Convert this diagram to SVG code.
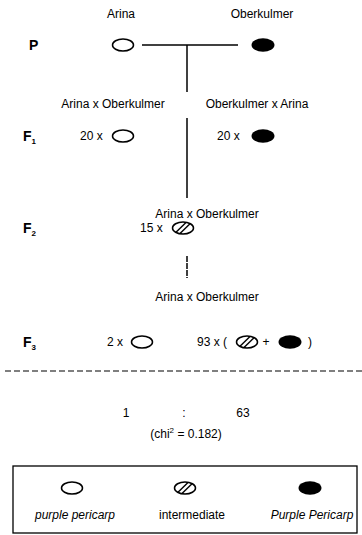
<svg xmlns="http://www.w3.org/2000/svg" width="362" height="535" viewBox="0 0 362 535">
  <style>
    text { font-family: "Liberation Sans", Arial, sans-serif; font-size: 12px; fill: #000; }
    .mid { text-anchor: middle; }
    .gen { font-size: 14px; font-weight: bold; }
    .sub { font-size: 8px; font-weight: bold; }
    .it { font-style: italic; }
    .ln { stroke: #000; stroke-width: 1.5; fill: none; }
    .dash { stroke: #000; stroke-width: 1.2; fill: none; stroke-dasharray: 6 3; }
  </style>
  <defs>
    <g id="seed-open">
      <ellipse cx="0" cy="0" rx="10.5" ry="6" fill="#fff" stroke="#000" stroke-width="1.5"/>
    </g>
    <g id="seed-mid">
      <ellipse cx="0" cy="0" rx="10.5" ry="6" fill="#fff" stroke="#000" stroke-width="1.5"/>
      <line x1="-7" y1="4.3" x2="3" y2="-5.6" stroke="#000" stroke-width="1.4"/>
      <line x1="-3" y1="5.6" x2="7" y2="-4.3" stroke="#000" stroke-width="1.4"/>
    </g>
    <g id="seed-full">
      <ellipse cx="0" cy="0" rx="11.5" ry="6.8" fill="#000"/>
    </g>
  </defs>

  <!-- connectors -->
  <g id="connectors">
    <line class="ln" x1="142" y1="45" x2="238" y2="45"/>
    <line class="ln" x1="187" y1="45" x2="187" y2="92"/>
    <line class="ln" x1="187" y1="118" x2="187" y2="198"/>
    <line class="ln" x1="187" y1="256" x2="187" y2="278" stroke-width="1.2" stroke-dasharray="6 1"/>
    <line class="dash" x1="5" y1="371" x2="362" y2="371"/>
  </g>

  <!-- parents -->
  <g id="gen-p">
    <text class="gen" x="29" y="50">P</text>
    <text class="mid" x="121" y="18">Arina</text>
    <text class="mid" x="262" y="18">Oberkulmer</text>
    <use href="#seed-open" x="123" y="45"/>
    <use href="#seed-full" x="263" y="45"/>
  </g>

  <!-- F1 -->
  <g id="gen-f1">
    <text class="mid" x="113" y="108">Arina x Oberkulmer</text>
    <text class="mid" x="257" y="108">Oberkulmer x Arina</text>
    <text class="gen" x="23" y="141">F<tspan class="sub" dy="3">1</tspan></text>
    <text x="80" y="140">20 x</text>
    <use href="#seed-open" x="123" y="136"/>
    <text x="217" y="140">20 x</text>
    <use href="#seed-full" x="263" y="136"/>
  </g>

  <!-- F2 -->
  <g id="gen-f2">
    <text class="mid" x="207" y="218">Arina x Oberkulmer</text>
    <text class="gen" x="23" y="233">F<tspan class="sub" dy="3">2</tspan></text>
    <text x="140" y="232">15 x</text>
    <use href="#seed-mid" x="183" y="228"/>
  </g>

  <!-- F3 -->
  <g id="gen-f3">
    <text class="mid" x="207" y="301">Arina x Oberkulmer</text>
    <text class="gen" x="23" y="347">F<tspan class="sub" dy="3">3</tspan></text>
    <text x="107" y="346">2 x</text>
    <use href="#seed-open" x="142" y="342"/>
    <text x="197" y="346">93 x  (</text>
    <use href="#seed-mid" x="247" y="342"/>
    <text class="mid" x="266" y="346">+</text>
    <use href="#seed-full" x="290" y="342"/>
    <text x="308" y="346">)</text>
  </g>

  <!-- segregation ratio -->
  <g id="ratio">
    <text class="mid" x="126" y="417">1</text>
    <text class="mid" x="184" y="417">:</text>
    <text class="mid" x="243" y="417">63</text>
    <text class="mid" x="186" y="438">(chi<tspan font-size="8" dy="-5">2</tspan><tspan dy="5"> = 0.182)</tspan></text>
  </g>

  <!-- legend -->
  <g id="legend">
    <rect x="13" y="466" width="344" height="67" fill="none" stroke="#000" stroke-width="1.3"/>
    <use href="#seed-open" x="72" y="488"/>
    <use href="#seed-mid" x="185" y="488"/>
    <use href="#seed-full" x="310" y="488"/>
    <text class="mid it" x="75" y="519">purple pericarp</text>
    <text class="mid" x="192" y="519">intermediate</text>
    <text class="mid it" x="312" y="519">Purple Pericarp</text>
  </g>
</svg>
